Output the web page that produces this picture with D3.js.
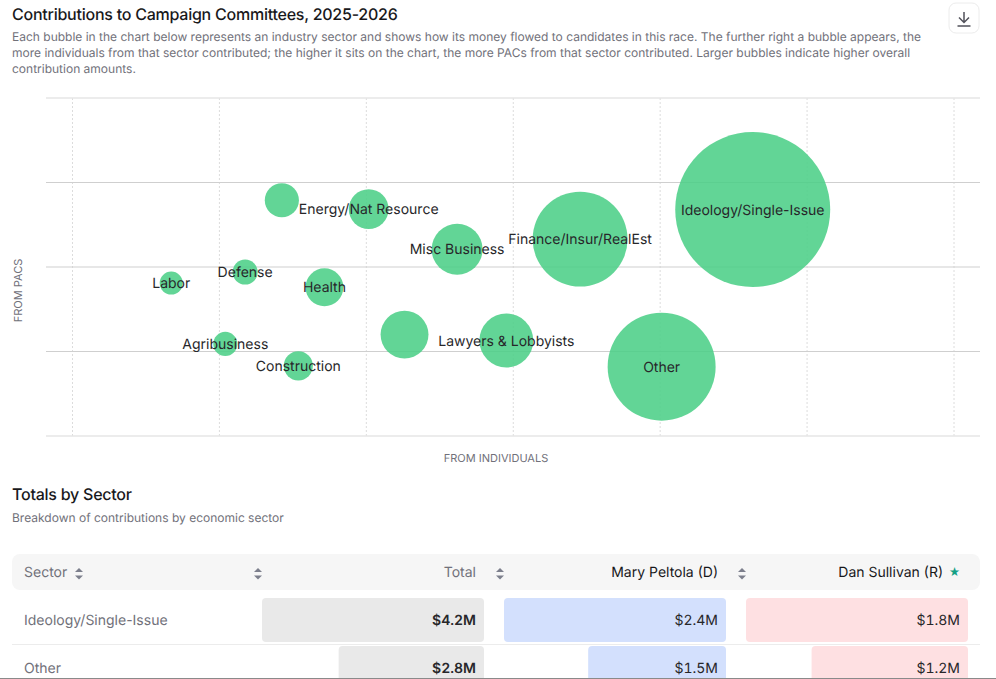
<!DOCTYPE html>
<html>
<head>
<meta charset="utf-8">
<script src="https://cdn.jsdelivr.net/npm/d3@7"></script>
<style>
  html, body { margin: 0; padding: 0; background: #fff; overflow: hidden; }
  svg { display: block; font-family: Inter, "Noto Sans", sans-serif; text-rendering: geometricPrecision; }
</style>
</head>
<body>
<svg id="page" width="996" height="679"></svg>
<script>
const chartTitle = 'Contributions to Campaign Committees, 2025-2026';
const chartNote = [
  'Each bubble in the chart below represents an industry sector and shows how its money flowed to candidates in this race. The further right a bubble appears, the',
  'more individuals from that sector contributed; the higher it sits on the chart, the more PACs from that sector contributed. Larger bubbles indicate higher overall',
  'contribution amounts.'
];

// axis units, the reference prints no tick labels
const sectors = ['Ideology/Single-Issue', 'Other', 'Finance/Insur/RealEst', 'Lawyers & Lobbyists', 'Misc Business',
  'Communic/Electronics', 'Energy/Nat Resource', 'Health', 'Transportation', 'Construction', 'Defense', 'Agribusiness', 'Labor'];
const fromIndividuals = [4.63, 4.01, 3.455, 2.953, 2.618, 2.26, 2.016, 1.715, 1.425, 1.537, 1.175, 1.04, 0.672];
const fromPacs = [2.68, 0.82, 2.33, 1.13, 2.21, 1.20, 2.685, 1.76, 2.79, 0.83, 1.94, 1.09, 1.81];
const totals = [4.2, 2.8, 2.41, 1.19, 1.1, 1.01, 0.77, 0.71, 0.6, 0.45, 0.33, 0.3, 0.27];
const hiddenLabels = ['Communic/Electronics', 'Transportation'];
const xTicks = [0, 1, 2, 3, 4, 5, 6];
const yTicks = [0, 1, 2, 3, 4];

const tableTitle = 'Totals by Sector';
const tableNote = 'Breakdown of contributions by economic sector';
const tableSectors = ['Ideology/Single-Issue', 'Other'];
const tableTotals = [4.2, 2.75];
const tablePeltola = [2.4, 1.49];
const tableSullivan = [1.76, 1.24];

const svg = d3.select('#page');
const fmt = v => `$${v.toFixed(1)}M`;

svg.append('text').attr('x', 12).attr('y', 20).attr('font-size', 16).attr('font-weight', 500)
  .attr('letter-spacing', -0.24).attr('fill', '#18181b').text(chartTitle);
svg.selectAll('.note').data(chartNote).enter().append('text').attr('class', 'note')
  .attr('x', 12).attr('y', (d, i) => 41 + i * 16).attr('font-size', 12).attr('fill', '#71717a').text(d => d);

// download button
const btn = svg.append('g').attr('transform', 'translate(949,3)');
btn.append('rect').attr('x', 0).attr('y', 0).attr('width', 30).attr('height', 30).attr('rx', 7)
  .attr('fill', '#fff').attr('stroke', '#ececec');
btn.append('path').attr('d', 'M15 9V19M10 14.5L15 19.5L20 14.5M8.5 23H21.5')
  .attr('fill', 'none').attr('stroke', '#52525b').attr('stroke-width', 1.5);

// bubble chart
const x = d3.scaleLinear().domain([0, 6]).range([72.5, 954]);
const y = d3.scaleLinear().domain([0, 4]).range([436, 98]);
const r = d3.scaleLinear().domain([0, 4.2]).range([7, 77.5]);

const grid = svg.append('g');
grid.selectAll('.vgrid').data(xTicks).enter().append('line').attr('class', 'vgrid')
  .attr('x1', d => x(d)).attr('x2', d => x(d)).attr('y1', y(4)).attr('y2', y(0))
  .attr('stroke', '#dcdcdc').attr('stroke-dasharray', '2,2');
grid.selectAll('.hgrid').data(yTicks).enter().append('line').attr('class', 'hgrid')
  .attr('x1', 46).attr('x2', 980).attr('y1', d => y(d)).attr('y2', d => y(d))
  .attr('stroke', d => (d === 0 || d === 4) ? '#e6e6e6' : '#cfcfcf')
  .attr('stroke-width', d => (d === 0 || d === 4) ? 1.5 : 1);

svg.selectAll('.bubble').data(sectors).enter().append('circle').attr('class', 'bubble')
  .attr('cx', (d, i) => x(fromIndividuals[i])).attr('cy', (d, i) => y(fromPacs[i]))
  .attr('r', (d, i) => r(totals[i])).attr('fill', '#4ccf88').attr('fill-opacity', 0.88);

svg.selectAll('.label').data(sectors).enter().filter(d => !hiddenLabels.includes(d))
  .append('text').attr('class', 'label')
  .attr('x', d => x(fromIndividuals[sectors.indexOf(d)]))
  .attr('y', d => y(fromPacs[sectors.indexOf(d)]) + 5)
  .attr('text-anchor', 'middle').attr('font-size', 14).attr('fill', '#27272a').text(d => d);

svg.append('text').attr('x', 496).attr('y', 462).attr('text-anchor', 'middle')
  .attr('font-size', 11).attr('fill', '#71717a').text('FROM INDIVIDUALS');
svg.append('text').attr('transform', 'translate(22,290.5) rotate(-90)').attr('text-anchor', 'middle')
  .attr('font-size', 11).attr('fill', '#71717a').text('FROM PACS');

// table
svg.append('text').attr('x', 12).attr('y', 500).attr('font-size', 16).attr('font-weight', 500)
  .attr('letter-spacing', -0.24).attr('fill', '#18181b').text(tableTitle);
svg.append('text').attr('x', 12).attr('y', 522).attr('font-size', 12).attr('fill', '#71717a').text(tableNote);

svg.append('rect').attr('x', 12).attr('y', 554).attr('width', 968).attr('height', 36).attr('rx', 8).attr('fill', '#f6f6f6');

const headers = [
  { text: 'Sector', x: 24, anchor: 'start', color: '#71717a' },
  { text: 'Total', x: 476, anchor: 'end', color: '#71717a' },
  { text: 'Mary Peltola (D)', x: 718, anchor: 'end', color: '#18181b' },
  { text: 'Dan Sullivan (R)', x: 943, anchor: 'end', color: '#18181b' }
];
svg.selectAll('.head').data(headers).enter().append('text').attr('class', 'head')
  .attr('x', d => d.x).attr('y', 577).attr('text-anchor', d => d.anchor).attr('font-size', 14)
  .attr('fill', d => d.color).text(d => d.text);
svg.append('text').attr('x', 954.5).attr('y', 576).attr('text-anchor', 'middle').attr('font-size', 11)
  .attr('fill', '#14a085').text('★');

const sortAt = [79, 258, 500, 742];
const sort = svg.selectAll('.sort').data(sortAt).enter().append('g').attr('class', 'sort')
  .attr('transform', d => `translate(${d},573.5)`).attr('fill', '#7c7f8c');
sort.append('path').attr('d', 'M-4 -1.5L0 -5.5L4 -1.5Z');
sort.append('path').attr('d', 'M-4 2L0 6L4 2Z');

const rowHeight = 48;
const rowTop = i => 598 + i * rowHeight;
const columns = [
  { values: tableTotals, x0: 262, x1: 484, fill: '#e9e9e9', weight: 600 },
  { values: tablePeltola, x0: 504, x1: 726, fill: '#d3e0fd', weight: 400 },
  { values: tableSullivan, x0: 746, x1: 968, fill: '#fee0e2', weight: 400 }
];

svg.selectAll('.rowname').data(tableSectors).enter().append('text').attr('class', 'rowname')
  .attr('x', 24).attr('y', (d, i) => rowTop(i) + 27).attr('font-size', 14).attr('fill', '#71717a').text(d => d);
svg.selectAll('.rowline').data(tableSectors).enter().append('line').attr('class', 'rowline')
  .attr('x1', 12).attr('x2', 980).attr('y1', (d, i) => rowTop(i) + 46.5).attr('y2', (d, i) => rowTop(i) + 46.5)
  .attr('stroke', '#ececec');

columns.forEach(col => {
  const w = d3.scaleLinear().domain([0, d3.max(col.values)]).range([0, col.x1 - col.x0]);
  const g = svg.append('g');
  g.selectAll('rect').data(col.values).enter().append('rect')
    .attr('x', d => col.x1 - w(d)).attr('y', (d, i) => rowTop(i))
    .attr('width', d => w(d)).attr('height', 44).attr('rx', 4).attr('fill', col.fill);
  g.selectAll('text').data(col.values).enter().append('text')
    .attr('x', col.x1 - 8).attr('y', (d, i) => rowTop(i) + 27).attr('text-anchor', 'end')
    .attr('font-size', 14).attr('font-weight', col.weight).attr('fill', '#27272a')
    .style('font-variant-numeric', 'tabular-nums').text(fmt);
});

svg.append('line').attr('x1', 0).attr('x2', 996).attr('y1', 678.5).attr('y2', 678.5).attr('stroke', '#8a8a8a');
</script>
</body>
</html>
